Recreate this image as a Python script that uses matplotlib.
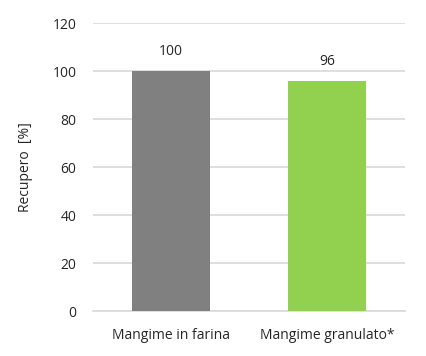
import numpy as np
import matplotlib.pyplot as plt

categories = ["Mangime in farina", "Mangime granulato*"]
values = [100, 96]
bar_colors = ["#808080", "#92D050"]
y_ticks = [0, 20, 40, 60, 80, 100, 120]

plt.rcParams["font.family"] = ["Open Sans", "DejaVu Sans"]

fig = plt.figure(figsize=(4.27, 3.56), dpi=100)
ax = fig.add_axes([0.218, 0.126, 0.730, 0.809])

x = np.arange(len(categories))
bars = ax.bar(x, values, width=0.5, color=bar_colors, zorder=3)
for xi, v in zip(x, values):
    ax.text(xi, v + 5, f"{v}", ha="center", va="bottom", fontsize=10, color="#262626")

ax.set_xlim(-0.5, 1.5)
ax.set_ylim(0, 120)
ax.set_yticks(y_ticks)
ax.set_xticks(x)
ax.set_xticklabels(categories)
ax.tick_params(axis="both", length=0, labelsize=10, colors="#262626")
ax.tick_params(axis="y", pad=12)
ax.tick_params(axis="x", pad=12)
ax.grid(axis="y", color="#D9D9D9", linewidth=1.2, zorder=0)
for s in ["top", "right", "left"]:
    ax.spines[s].set_visible(False)
ax.spines["bottom"].set_color("#D9D9D9")
ax.spines["bottom"].set_linewidth(1.2)
ax.set_ylabel("Recupero  [%]", fontsize=10, color="#262626", labelpad=14)

fig.savefig("out.png", dpi=100)
